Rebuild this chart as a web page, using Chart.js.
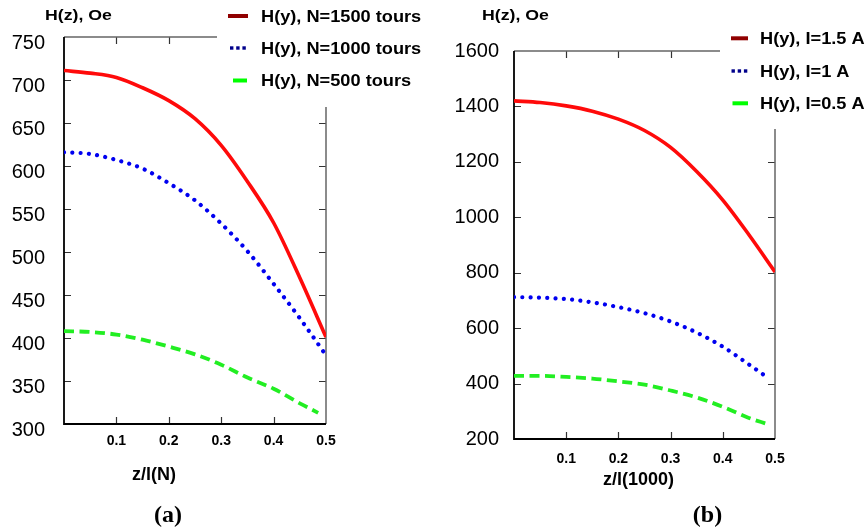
<!DOCTYPE html>
<html><head><meta charset="utf-8">
<script src="https://cdn.jsdelivr.net/npm/chart.js@4.4.0/dist/chart.umd.min.js"></script>
<style>
html,body{margin:0;padding:0;background:#fff;width:866px;height:531px;overflow:hidden}
#wa{position:absolute;left:0;top:0;width:430px;height:531px}
#wb{position:absolute;left:430px;top:0;width:436px;height:531px}
</style></head><body>
<div id="wa"><canvas id="ca"></canvas></div>
<div id="wb"><canvas id="cb"></canvas></div>
<script>
// ---- data ----
const zFull  = [0, 0.05, 0.1, 0.15, 0.2, 0.25, 0.3, 0.35, 0.4, 0.45, 0.5];
const zShort = [0, 0.05, 0.1, 0.15, 0.2, 0.25, 0.3, 0.35, 0.4, 0.45, 0.485];
const xTickLabels = ['0.1', '0.2', '0.3', '0.4', '0.5'];
const yTicksA = [300, 350, 400, 450, 500, 550, 600, 650, 700, 750];
const yTicksB = [200, 400, 600, 800, 1000, 1200, 1400, 1600];

const labelsA = ['H(y), N=1500 tours', 'H(y), N=1000 tours', 'H(y), N=500 tours'];
const labelsB = ['H(y), I=1.5 A', 'H(y), I=1 A', 'H(y), I=0.5 A'];

const hN1500 = [711, 708, 703, 691, 676, 655, 624, 582, 534, 470, 401];
const hN1000 = [616, 614, 607, 597, 580, 560, 533, 501, 463, 423, 380];
const hN500  = [408, 407, 404, 398, 390, 381, 369, 354, 341, 324, 313];

const hI15 = [1420, 1414, 1402, 1383, 1354, 1313, 1252, 1165, 1062, 937, 803];
const hI1  = [712, 710, 705, 693, 676, 654, 624, 584, 533, 469, 423];
const hI05 = [428, 428, 424, 418, 408, 396, 375, 350, 316, 276, 254];

const yTitle = 'H(z), Oe';
const xTitleA = 'z/l(N)';
const xTitleB = 'z/l(1000)';
const panelA = '(a)';
const panelB = '(b)';

// ---- helpers ----
const pts = (xs, ys) => xs.map((x, i) => ({x: x, y: ys[i]}));
const RED = '#ff0a0a', BLUE = '#0000f0', GREEN = '#22ee22';
const SANS = '"Liberation Sans", Arial, sans-serif';

function makeDatasets(labels, xsArr, ysArr) {
  const styles = [
    {borderColor: RED, borderWidth: 3.6, borderDash: [], borderCapStyle: 'butt', sw: {type: 'solid', color: '#900000'}},
    {borderColor: BLUE, borderWidth: 4.2, borderDash: [0.01, 8.3], borderCapStyle: 'round', sw: {type: 'dots', color: '#00008b'}},
    {borderColor: GREEN, borderWidth: 3.8, borderDash: [10, 5.5], borderCapStyle: 'butt', sw: {type: 'solid', color: '#00ff00'}}
  ];
  return labels.map((lab, i) => Object.assign({
    label: lab,
    data: pts(xsArr[i], ysArr[i]),
    pointRadius: 0,
    fill: false,
    tension: 0,
    cubicInterpolationMode: 'monotone'
  }, styles[i]));
}

function wideText(ctx, text, x, y, sx, align) {
  ctx.save();
  ctx.translate(x, y);
  ctx.scale(sx, 1);
  ctx.textAlign = align || 'left';
  ctx.fillText(text, 0, 0);
  ctx.restore();
}

function framePlugin(L) {
  return {
    id: 'frame',
    beforeDatasetsDraw(chart) {
      const ctx = chart.ctx, a = chart.chartArea;
      const xs = chart.scales.x, ys = chart.scales.y;
      ctx.save();
      ctx.strokeStyle = '#333';
      ctx.lineWidth = 1.2;
      ctx.beginPath();
      xs.ticks.forEach(t => {
        if (t.value <= 0.0001 || t.value >= 0.4999) return;
        const px = Math.round(xs.getPixelForValue(t.value)) + 0.5;
        ctx.moveTo(px, a.bottom); ctx.lineTo(px, a.bottom - 7);
        ctx.moveTo(px, a.top); ctx.lineTo(px, a.top + 7);
      });
      ys.ticks.forEach(t => {
        if (t.value <= ys.min || t.value >= ys.max) return;
        const py = Math.round(ys.getPixelForValue(t.value)) + 0.5;
        ctx.moveTo(a.left, py); ctx.lineTo(a.left + 7, py);
        ctx.moveTo(a.right, py); ctx.lineTo(a.right - 7, py);
      });
      ctx.stroke();
      ctx.strokeStyle = '#666';
      ctx.lineWidth = 1.5;
      ctx.beginPath();
      ctx.moveTo(a.left, a.top); ctx.lineTo(a.right, a.top); ctx.lineTo(a.right, a.bottom);
      ctx.stroke();
      ctx.strokeStyle = '#000';
      ctx.lineWidth = 1.8;
      ctx.beginPath();
      ctx.moveTo(a.left, a.top); ctx.lineTo(a.left, a.bottom); ctx.lineTo(a.right, a.bottom);
      ctx.stroke();
      ctx.restore();
    },
    afterDraw(chart) {
      const ctx = chart.ctx;
      ctx.save();
      ctx.fillStyle = '#fff';
      ctx.fillRect(L.coverX, 0, chart.width - L.coverX, L.coverY);
      chart.data.datasets.forEach((ds, i) => {
        const y = L.rows[i];
        const s = L.sw[i];
        if (ds.sw.type === 'solid') {
          ctx.strokeStyle = ds.sw.color;
          ctx.lineWidth = 4;
          ctx.lineCap = 'butt';
          ctx.beginPath();
          ctx.moveTo(s[0], y); ctx.lineTo(s[1], y);
          ctx.stroke();
        } else {
          ctx.fillStyle = ds.sw.color;
          for (let k = 0; k < 3; k++) {
            ctx.fillRect(s[0] + k * 6.2, y - 1.7, 3.4, 3.4);
          }
        }
        ctx.fillStyle = '#000';
        ctx.font = 'bold 17px ' + SANS;
        ctx.textBaseline = 'middle';
        wideText(ctx, ds.label, L.textX, y + 1, 1.07, 'left');
      });
      ctx.fillStyle = '#000';
      ctx.font = 'bold 15px ' + SANS;
      ctx.textBaseline = 'middle';
      wideText(ctx, L.yTitle, L.yTitleX, 16, 1.18, 'left');
      ctx.font = 'bold 18px ' + SANS;
      ctx.textAlign = 'center';
      ctx.fillText(L.xTitle, L.xTitleX, L.xTitleY);
      ctx.font = 'bold 24px "Liberation Serif", "Times New Roman", serif';
      ctx.fillText(L.panel, L.panelX, 516);
      ctx.restore();
    }
  };
}

function makeChart(id, datasets, yTicks, geo, L) {
  const step = yTicks[1] - yTicks[0];
  return new Chart(document.getElementById(id), {
    type: 'line',
    data: {datasets: datasets},
    options: {
      responsive: true,
      maintainAspectRatio: false,
      animation: false,
      layout: {padding: {left: 0, right: geo.padRight, top: geo.padTop, bottom: geo.padBottom}},
      plugins: {legend: {display: false}, tooltip: {enabled: false}, title: {display: false}},
      scales: {
        x: {
          type: 'linear', min: 0, max: 0.5,
          grid: {display: false, drawTicks: false},
          border: {display: false},
          afterFit: s => { s.height = 30; },
          ticks: {
            stepSize: 0.1,
            padding: geo.xPad,
            color: '#000',
            font: {family: SANS, size: 14, weight: 'bold'},
            callback: v => { const t = (Math.round(v * 10) / 10).toFixed(1); return xTickLabels.includes(t) ? t : ''; },
            maxRotation: 0,
            autoSkip: false
          }
        },
        y: {
          type: 'linear', min: yTicks[0], max: yTicks[yTicks.length - 1],
          grid: {display: false, drawTicks: false},
          border: {display: false},
          afterFit: s => { s.width = geo.yWidth; },
          ticks: {
            stepSize: step,
            padding: geo.yPad,
            labelOffset: geo.yLabelOffset,
            color: '#000',
            font: {family: SANS, size: 20},
            callback: v => String(Math.round(v))
          }
        }
      }
    },
    plugins: [framePlugin(L)]
  });
}

makeChart('ca',
  makeDatasets(labelsA, [zFull, zFull, zShort], [hN1500, hN1000, hN500]),
  yTicksA,
  {padRight: 104, padTop: 37, padBottom: 77, yWidth: 64, xPad: 9, yPad: 19, yLabelOffset: 6},
  {coverX: 217, coverY: 107, rows: [16, 48, 80.5], sw: [[228, 248], [230, 247], [233, 247]],
   textX: 261, yTitle: yTitle, yTitleX: 45,
   xTitle: xTitleA, xTitleX: 154, xTitleY: 475, panel: panelA, panelX: 168});

makeChart('cb',
  makeDatasets(labelsB, [zFull, zShort, zShort], [hI15, hI1, hI05]),
  yTicksB,
  {padRight: 91, padTop: 51, padBottom: 62, yWidth: 84, xPad: 12, yPad: 15, yLabelOffset: 0},
  {coverX: 290, coverY: 129, rows: [38.3, 71, 103.3], sw: [[301, 318], [301.5, 317], [302.5, 318]],
   textX: 330, yTitle: yTitle, yTitleX: 52,
   xTitle: xTitleB, xTitleX: 208.5, xTitleY: 480, panel: panelB, panelX: 277.5});
</script>
</body></html>
